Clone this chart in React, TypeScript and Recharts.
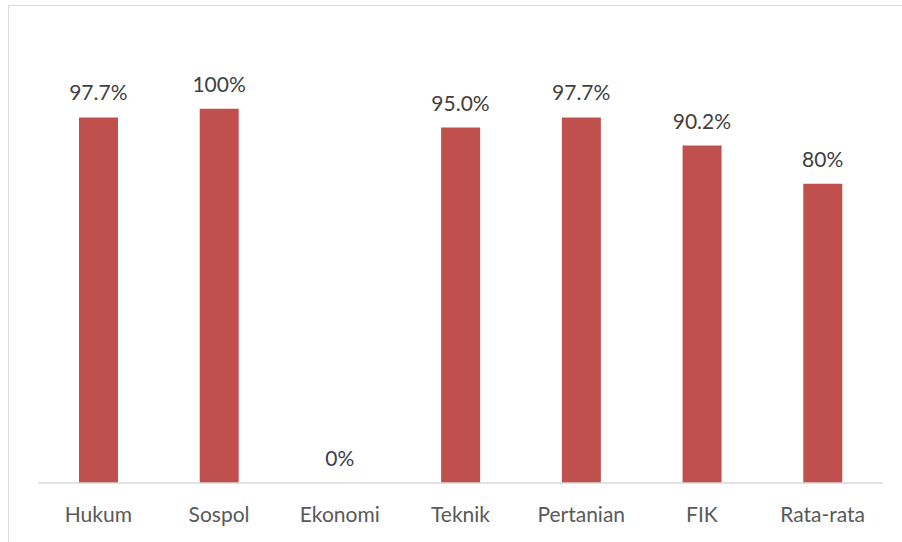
import { BarChart, Bar, Line, XAxis, YAxis, LabelList } from "recharts";

const categories = ["Hukum", "Sospol", "Ekonomi", "Teknik", "Pertanian", "FIK", "Rata-rata"];
const values = [0.977, 1.0, 0, 0.95, 0.977, 0.902, 0.8];
const valueLabels = ["97.7%", "100%", "0%", "95.0%", "97.7%", "90.2%", "80%"];

const data = categories.map((name, i) => ({
  name,
  value: values[i],
  label: valueLabels[i],
}));

const FONT = "Lato, 'Open Sans', sans-serif";

export default function App() {
  return (
    <div style={{ position: "absolute", left: 0, top: 0, width: 902, height: 542, background: "#fff" }}>
      {/* chart frame, cropped at right and bottom like the source image */}
      <div
        style={{
          position: "absolute",
          left: 8,
          top: 5,
          width: 894,
          height: 537,
          borderLeft: "1px solid #d9d9d9",
          borderTop: "1px solid #d9d9d9",
          boxSizing: "border-box",
        }}
      />
      <BarChart
        width={902}
        height={542}
        data={data}
        margin={{ top: 34, right: 19, left: 38, bottom: 0 }}
        style={{ position: "absolute", left: 0, top: 0, fontFamily: FONT }}
      >
        <XAxis
          dataKey="name"
          height={59}
          tickLine={false}
          tickSize={0}
          tickMargin={24}
          axisLine={{ stroke: "#d9d9d9", strokeWidth: 1.5 }}
          tick={{ fill: "#595959", fontSize: 21, fontFamily: FONT }}
          interval={0}
        />
        <YAxis hide domain={[0, 1.2]} />
        <Bar dataKey="value" fill="#c0504d" barSize={39} isAnimationActive={false} />
        {/* invisible series that carries the data labels (the zero bar drops its own label) */}
        <Line
          dataKey="value"
          stroke="none"
          dot={false}
          activeDot={false}
          legendType="none"
          isAnimationActive={false}
        >
          <LabelList
            dataKey="label"
            position="top"
            offset={17}
            fill="#404040"
            fontSize={21}
            fontFamily={FONT}
          />
        </Line>
      </BarChart>
    </div>
  );
}
